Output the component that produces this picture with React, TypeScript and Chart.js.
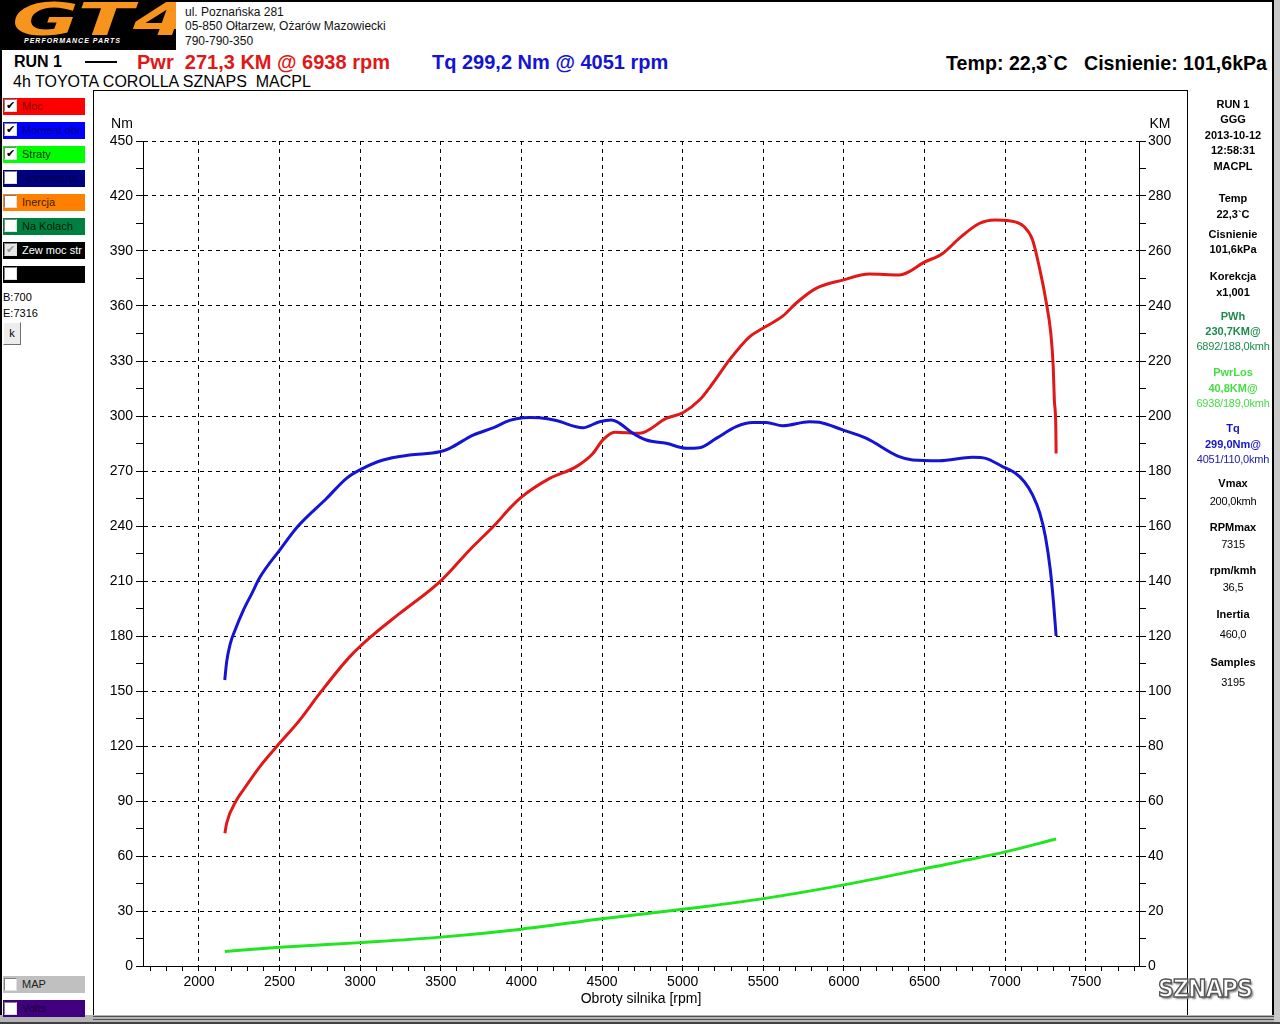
import React, { useEffect, useRef } from 'react';
import { Chart, registerables } from 'chart.js';

Chart.register(...registerables);

// ---------- data ----------
const TQ_RPM = [2160, 2172, 2195, 2223, 2275, 2327, 2378, 2502, 2615, 2791, 2915, 2998, 3142, 3307, 3493, 3555, 3700, 3824, 3927, 4009, 4051, 4110, 4216, 4381, 4485, 4557, 4609, 4691, 4774, 4898, 5022, 5104, 5208, 5332, 5435, 5518, 5620, 5786, 5848, 5992, 6137, 6343, 6426, 6591, 6798, 6880, 6983, 7060, 7120, 7170, 7215, 7250, 7280, 7300, 7316];
const TQ_NM = [156, 166, 176, 183, 194, 203, 212, 227, 240, 255, 266, 270.6, 276, 278.7, 280.5, 282.4, 289.6, 293.5, 297.6, 299.1, 299.2, 299.0, 297.5, 293.6, 296.9, 297.8, 296, 290.6, 286.9, 285.1, 282.4, 282.7, 287.8, 294.2, 296.4, 296.4, 294.7, 296.9, 296.6, 292.4, 287.9, 277.8, 276, 275.6, 277.5, 276.9, 272.4, 269, 264, 257, 247, 234, 216, 198, 180];

const PWR_RPM = [2161, 2172, 2234, 2275, 2378, 2481, 2626, 2750, 2936, 3080, 3245, 3493, 3679, 3845, 3927, 4000, 4175, 4340, 4443, 4505, 4578, 4733, 4898, 5001, 5104, 5187, 5290, 5414, 5497, 5620, 5703, 5827, 5992, 6157, 6343, 6405, 6488, 6612, 6715, 6839, 6938, 7025, 7118, 7170, 7211, 7252, 7283, 7298, 7305, 7314, 7316];
const PWR_KM = [48.3, 52, 60.4, 64, 72.5, 79.7, 89.5, 99.2, 112.5, 120.4, 128.2, 139.7, 151.3, 161, 166.4, 170.5, 177.3, 181.6, 186.4, 191.3, 194.1, 193.7, 199.1, 201.2, 205.8, 211.9, 220.4, 228.8, 231.9, 236.3, 241, 246.4, 249.4, 251.6, 251.3, 252.5, 255.6, 259.1, 264.6, 270, 271.3, 271, 268.8, 264, 254.3, 242.2, 230.1, 218, 205.8, 196.1, 186.4];

const LOSS_RPM = [2161, 2500, 3000, 3500, 4000, 4500, 5000, 5500, 6000, 6500, 7000, 7316];
const LOSS_KM = [5.3, 6.8, 8.5, 10.5, 13.4, 17.2, 20.6, 24.5, 29.5, 35.4, 41.5, 46.2];

const X_MIN = 1653;
const X_MAX = 7830;
const X_MINOR = 100;
const X_MAJOR = 500;
const NM_MAX = 450;
const NM_MINOR = 15;
const NM_MAJOR = 30;
const KM_MAX = 300;
const KM_MINOR = 10;
const KM_MAJOR = 20;

const LEGEND_ITEMS = ['Moc', 'Moment obr', 'Straty', 'Hamowana', 'Inercja', 'Na Kolach', 'Zew moc str', ''];
const LEGEND_COLORS = ['#ff0000', '#0000ff', '#00ff00', '#000080', '#ff8000', '#008040', '#000000', '#000000'];
const LEGEND_TEXT = ['#800000', '#000080', '#003000', '#000050', '#402000', '#001a0a', '#ffffff', '#ffffff'];
const LEGEND_CHECK = [1, 1, 1, 0, 0, 0, 2, 0];

const INFO_TEXT = ['RUN 1', 'GGG', '2013-10-12', '12:58:31', 'MACPL', 'Temp', '22,3`C', 'Cisnienie', '101,6kPa', 'Korekcja', 'x1,001', 'PWh', '230,7KM@', '6892/188,0kmh', 'PwrLos', '40,8KM@', '6938/189,0kmh', 'Tq', '299,0Nm@', '4051/110,0kmh', 'Vmax', '200,0kmh', 'RPMmax', '7315', 'rpm/kmh', '36,5', 'Inertia', '460,0', 'Samples', '3195'];
const INFO_Y = [104, 119, 135, 150, 166, 198, 214, 234, 249, 276, 292, 316, 331, 346, 372, 388, 403, 428, 444, 459, 483, 501, 527, 544, 570, 587, 614, 634, 662, 682];
const INFO_COLOR = ['#000', '#000', '#000', '#000', '#000', '#000', '#000', '#000', '#000', '#000', '#000', '#1f8a4c', '#1f8a4c', '#1f8a4c', '#44dd44', '#44dd44', '#44dd44', '#1414c8', '#1414c8', '#2020b0', '#000', '#000', '#000', '#000', '#000', '#000', '#000', '#000', '#000', '#000'];
const INFO_BOLD = [1, 1, 1, 1, 1, 1, 1, 1, 1, 1, 1, 1, 1, 0, 1, 1, 0, 1, 1, 0, 1, 0, 1, 0, 1, 0, 1, 0, 1, 0];

const FONT = '"Liberation Sans", Arial, sans-serif';

function range(a: number, b: number, s: number) {
  const out: number[] = [];
  for (let v = a; v <= b + 1e-9; v += s) out.push(v);
  return out;
}

function Txt(p: { x: number; y: number; t: string; size: number; bold?: boolean; color?: string; align?: 'left' | 'center' | 'right'; family?: string; ls?: number }) {
  const lh = Math.round(p.size * 1.2);
  const st: any = {
    position: 'absolute',
    top: p.y - lh / 2,
    lineHeight: lh + 'px',
    height: lh,
    fontSize: p.size,
    fontWeight: p.bold ? 700 : 400,
    color: p.color || '#000',
    whiteSpace: 'pre',
    fontFamily: p.family || FONT,
    letterSpacing: p.ls || 0,
  };
  if (p.align === 'center') {
    st.left = p.x - 100;
    st.width = 200;
    st.textAlign = 'center';
  } else if (p.align === 'right') {
    st.right = 1280 - p.x;
    st.textAlign = 'right';
  } else {
    st.left = p.x;
  }
  return <div style={st}>{p.t}</div>;
}

function CheckBox({ state, x, y }: { state: number; x: number; y: number }) {
  return (
    <div
      style={{
        position: 'absolute',
        left: x,
        top: y,
        width: 11,
        height: 11,
        background: state === 2 ? '#e6e6e6' : '#fff',
        borderTop: '1px solid #808080',
        borderLeft: '1px solid #808080',
        borderRight: '1px solid #e0e0e0',
        borderBottom: '1px solid #e0e0e0',
        fontSize: 11,
        lineHeight: '11px',
        textAlign: 'center',
        color: state === 2 ? '#9a9a9a' : '#000',
        fontFamily: '"DejaVu Sans", sans-serif',
        overflow: 'hidden',
      }}
    >
      {state ? '✔' : ''}
    </div>
  );
}

export default function App() {
  const ref = useRef<HTMLCanvasElement | null>(null);

  useEffect(() => {
    if (!ref.current) return;
    const tickFont = { family: FONT, size: 14 };
    const axisTitles = {
      id: 'axisTitles',
      afterDraw(chart: any) {
        const { ctx, chartArea } = chart;
        ctx.save();
        ctx.font = '14px ' + FONT;
        ctx.fillStyle = '#000';
        ctx.textAlign = 'center';
        ctx.textBaseline = 'middle';
        ctx.fillText('Nm', chartArea.left - 21, chartArea.top - 17);
        ctx.fillText('KM', chartArea.right + 21, chartArea.top - 17);
        ctx.restore();
      },
    };
    const chart = new Chart(ref.current, {
      type: 'line',
      data: {
        datasets: [
          {
            label: 'Straty',
            data: LOSS_RPM.map((x, i) => ({ x, y: LOSS_KM[i] })),
            yAxisID: 'y1',
            borderColor: '#22e522',
            borderWidth: 3,
            pointRadius: 0,
            cubicInterpolationMode: 'monotone',
            fill: false,
          },
          {
            label: 'Moment obr',
            data: TQ_RPM.map((x, i) => ({ x, y: TQ_NM[i] })),
            yAxisID: 'y',
            borderColor: '#1414d2',
            borderWidth: 3,
            pointRadius: 0,
            cubicInterpolationMode: 'monotone',
            fill: false,
          },
          {
            label: 'Moc',
            data: PWR_RPM.map((x, i) => ({ x, y: PWR_KM[i] })),
            yAxisID: 'y1',
            borderColor: '#e01818',
            borderWidth: 3,
            pointRadius: 0,
            cubicInterpolationMode: 'monotone',
            fill: false,
          },
        ],
      },
      options: {
        animation: false,
        responsive: false,
        maintainAspectRatio: false,
        layout: { padding: { top: 50, left: 0, right: 0, bottom: 0 } },
        plugins: { legend: { display: false }, tooltip: { enabled: false } },
        scales: {
          x: {
            type: 'linear',
            min: X_MIN,
            max: X_MAX,
            afterBuildTicks: (s: any) => {
              s.ticks = range(1700, 7800, X_MINOR).map((v) => ({ value: v }));
            },
            afterFit: (s: any) => {
              s.height = 53;
            },
            ticks: {
              autoSkip: false,
              maxRotation: 0,
              padding: 3,
              color: '#000',
              font: tickFont,
              callback: (v: any) => (Number(v) % X_MAJOR === 0 ? String(v) : ''),
            },
            grid: {
              color: (c: any) => (c.tick && c.tick.value % X_MAJOR === 0 ? '#000' : 'rgba(0,0,0,0)'),
              tickColor: '#000',
              tickLength: 5,
              lineWidth: 1,
            },
            border: { display: true, color: '#000', width: 1, dash: [4, 4] },
            title: {
              display: true,
              text: 'Obroty silnika [rpm]',
              color: '#000',
              font: tickFont,
              padding: { top: 0, bottom: 11 },
            },
          },
          y: {
            type: 'linear',
            position: 'left',
            min: 0,
            max: NM_MAX,
            afterBuildTicks: (s: any) => {
              s.ticks = range(0, NM_MAX, NM_MINOR).map((v) => ({ value: v }));
            },
            afterFit: (s: any) => {
              s.width = 49;
            },
            ticks: {
              autoSkip: false,
              padding: 3,
              color: '#000',
              font: tickFont,
              callback: (v: any) => (Number(v) % NM_MAJOR === 0 ? String(v) : ''),
            },
            grid: {
              color: (c: any) => (c.tick && c.tick.value % NM_MAJOR === 0 && c.tick.value > 0 ? '#000' : 'rgba(0,0,0,0)'),
              tickColor: '#000',
              tickLength: 7,
              lineWidth: 1,
            },
            border: { display: true, color: '#000', width: 1, dash: [4, 4] },
          },
          y1: {
            type: 'linear',
            position: 'right',
            min: 0,
            max: KM_MAX,
            afterBuildTicks: (s: any) => {
              s.ticks = range(0, KM_MAX, KM_MINOR).map((v) => ({ value: v }));
            },
            afterFit: (s: any) => {
              s.width = 48;
            },
            ticks: {
              autoSkip: false,
              padding: 2,
              color: '#000',
              font: tickFont,
              callback: (v: any) => (Number(v) % KM_MAJOR === 0 ? String(v) : ''),
            },
            grid: {
              drawOnChartArea: false,
              color: '#000',
              tickColor: '#000',
              tickLength: 7,
              lineWidth: 1,
            },
            border: { display: true, color: '#000', width: 1 },
          },
        },
      } as any,
      plugins: [axisTitles],
    });
    return () => chart.destroy();
  }, []);

  return (
    <div
      style={{
        position: 'absolute',
        left: 0,
        top: 0,
        width: 1280,
        height: 1024,
        background: '#fff',
        overflow: 'hidden',
        fontFamily: FONT,
      }}
    >
      {/* outer frame */}
      <div style={{ position: 'absolute', left: 0, top: 0, width: 1280, height: 2, background: '#000' }} />
      <div style={{ position: 'absolute', left: 0, top: 0, width: 2, height: 1024, background: '#000' }} />
      <div style={{ position: 'absolute', left: 1272, top: 0, width: 2, height: 1024, background: '#000' }} />
      <div style={{ position: 'absolute', left: 1274, top: 0, width: 6, height: 1024, background: '#c8c8c8' }} />

      {/* logo */}
      <div style={{ position: 'absolute', left: 0, top: 0, width: 176, height: 50, background: '#000', overflow: 'hidden' }}>
        <div
          style={{
            position: 'absolute',
            left: 12,
            top: -4,
            fontSize: 44,
            lineHeight: '48px',
            fontWeight: 900,
            fontStyle: 'italic',
            color: '#f7941d',
            transform: 'scaleX(1.85)',
            transformOrigin: 'left top',
            fontFamily: '"DejaVu Sans", sans-serif',
          }}
        >
          GT4
        </div>
        <div
          style={{
            position: 'absolute',
            left: 24,
            top: 37,
            fontSize: 7,
            lineHeight: '8px',
            fontWeight: 700,
            fontStyle: 'italic',
            color: '#fff',
            letterSpacing: 1,
            fontFamily: FONT,
          }}
        >
          PERFORMANCE PARTS
        </div>
      </div>

      {/* address */}
      <Txt x={185} y={12} t="ul. Poznańska 281" size={12} color="#111" />
      <Txt x={185} y={26} t="05-850 Ołtarzew, Ożarów Mazowiecki" size={12} color="#111" />
      <Txt x={185} y={41} t="790-790-350" size={12} color="#111" />

      {/* header line */}
      <Txt x={14} y={61} t="RUN 1" size={16} bold />
      <div style={{ position: 'absolute', left: 85, top: 61, width: 32, height: 2, background: '#000' }} />
      <Txt x={137} y={62} t="Pwr  271,3 KM @ 6938 rpm" size={20} bold color="#e01818" />
      <Txt x={432} y={62} t="Tq 299,2 Nm @ 4051 rpm" size={20} bold color="#1414d2" />
      <Txt x={1267} y={63} t="Temp: 22,3`C   Cisnienie: 101,6kPa" size={19.6} bold align="right" />
      <Txt x={13} y={81} t="4h TOYOTA COROLLA SZNAPS  MACPL" size={16} />

      {/* chart box */}
      <div style={{ position: 'absolute', left: 93, top: 90, width: 1095, height: 926, border: '1px solid #000', boxSizing: 'border-box' }} />
      <canvas ref={ref} width={1093} height={928} style={{ position: 'absolute', left: 94, top: 91, width: 1093, height: 928 }} />

      {/* bottom frame */}
      <div style={{ position: 'absolute', left: 0, top: 1015, width: 1274, height: 9, background: '#b4b4b4' }} />
      <div style={{ position: 'absolute', left: 93, top: 1016, width: 1181, height: 1, background: '#505050' }} />
      <div style={{ position: 'absolute', left: 93, top: 1019, width: 1181, height: 1, background: '#505050' }} />
      <div style={{ position: 'absolute', left: 0, top: 1022, width: 1280, height: 2, background: '#404040' }} />

      {/* left legend */}
      {LEGEND_ITEMS.map((name, i) => (
        <div key={i} style={{ position: 'absolute', left: 3, top: 98 + i * 24, width: 82, height: 17, background: LEGEND_COLORS[i] }}>
          <CheckBox state={LEGEND_CHECK[i]} x={1} y={1} />
          <div
            style={{
              position: 'absolute',
              left: 19,
              top: 0,
              height: 17,
              lineHeight: '17px',
              fontSize: 11,
              color: LEGEND_TEXT[i],
              whiteSpace: 'nowrap',
              width: 63,
              overflow: 'hidden',
            }}
          >
            {name}
          </div>
        </div>
      ))}
      <Txt x={3} y={297} t="B:700" size={11} />
      <Txt x={3} y={313} t="E:7316" size={11} />
      <div
        style={{
          position: 'absolute',
          left: 3,
          top: 322,
          width: 18,
          height: 23,
          boxSizing: 'border-box',
          background: '#ececec',
          borderTop: '1px solid #fff',
          borderLeft: '1px solid #fff',
          borderRight: '1px solid #707070',
          borderBottom: '1px solid #707070',
          fontSize: 11,
          lineHeight: '21px',
          textAlign: 'center',
        }}
      >
        k
      </div>

      {/* bottom-left legend */}
      <div style={{ position: 'absolute', left: 3, top: 976, width: 82, height: 17, background: '#c0c0c0' }}>
        <CheckBox state={0} x={1} y={2} />
        <div style={{ position: 'absolute', left: 19, top: 0, lineHeight: '17px', fontSize: 11, color: '#202020' }}>MAP</div>
      </div>
      <div style={{ position: 'absolute', left: 3, top: 1000, width: 82, height: 17, background: '#400080' }}>
        <CheckBox state={0} x={1} y={2} />
        <div style={{ position: 'absolute', left: 19, top: 0, lineHeight: '17px', fontSize: 11, color: '#1a0033' }}>Volts</div>
      </div>

      {/* right info panel */}
      {INFO_TEXT.map((t, i) => (
        <Txt key={i} x={1233} y={INFO_Y[i]} t={t} size={11} bold={!!INFO_BOLD[i]} color={INFO_COLOR[i]} align="center" ls={INFO_BOLD[i] ? 0 : -0.2} />
      ))}

      {/* SZNAPS mark */}
      <div
        style={{
          position: 'absolute',
          left: 1158,
          top: 974,
          fontSize: 24,
          lineHeight: '30px',
          fontWeight: 900,
          color: '#fff',
          WebkitTextStroke: '1.5px #555',
          textShadow: '2px 2px 2px #888',
          fontFamily: '"DejaVu Sans", sans-serif',
          transform: 'scaleX(0.92)',
          transformOrigin: 'left top',
          letterSpacing: -1,
        }}
      >
        SZNAPS
      </div>
    </div>
  );
}
